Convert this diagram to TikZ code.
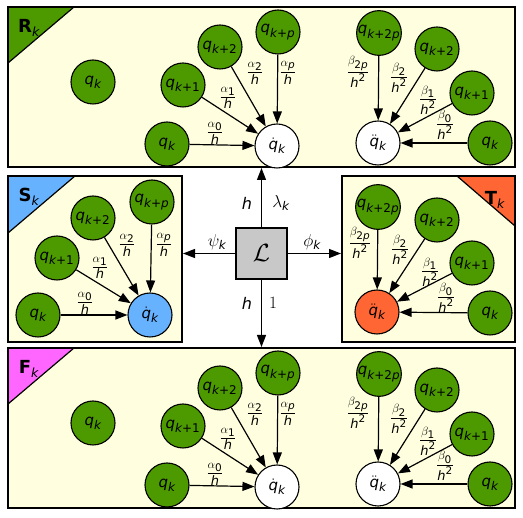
\documentclass[tikz,border=0pt]{standalone}
\usepackage{amsmath}
\usepackage{fontspec}
\newfontfamily\dv{DejaVu Sans}
\usetikzlibrary{arrows.meta}
\DeclareMathSizes{15}{15}{12}{9}
\DeclareMathSizes{13}{13}{10.5}{8}
\DeclareMathSizes{16}{16}{12}{9}
\definecolor{panelbg}{HTML}{FFFFE0}
\definecolor{grn}{HTML}{4C9900}
\definecolor{blu}{HTML}{66B2FF}
\definecolor{org}{HTML}{FF6633}
\definecolor{mag}{HTML}{FF66FF}
\definecolor{lgr}{HTML}{C8C8C8}
\newcommand\ti[1]{\text{\dv\itshape #1}}
\newcommand\tu[1]{\text{\dv #1}}
\newcommand\Qk{$\ti{q}_{\ti{k}}$}
\newcommand\Qa{$\ti{q}_{\ti{k}\tu{+1}}$}
\newcommand\Qb{$\ti{q}_{\ti{k}\tu{+2}}$}
\newcommand\Qp{$\ti{q}_{\ti{k}\tu{+}\ti{p}}$}
\newcommand\Qtp{$\ti{q}_{\ti{k}\tu{+2}\ti{p}}$}
\newcommand\Qd{$\dot{\ti{q}}_{\ti{k}}$}
\newcommand\Qdd{$\ddot{\ti{q}}_{\ti{k}}$}
\newcommand\Al[1]{$\dfrac{\alpha_{#1}}{\ti{h}}$}
\newcommand\Be[1]{$\dfrac{\beta_{#1}}{\ti{h}^{\tu{2}}}$}
\newcommand\Tag[1]{{\dv\bfseries #1}$_{\ti{k}}$}
\tikzset{
  panel/.style={draw=black, line width=1.8pt, fill=panelbg},
  border/.style={draw=black, line width=1.8pt},
  corner/.style={draw=black, line width=1.2pt},
  qn/.style={circle, draw=black, line width=1.1pt, fill=grn, minimum size=44pt, inner sep=0pt, font=\fontsize{15}{17}\selectfont},
  dn/.style={qn, fill=white},
  arr/.style={line width=1.2pt, -{Triangle[length=12pt,width=9pt]}},
  lab/.style={font=\fontsize{13}{15}\selectfont, inner sep=0pt},
  clab/.style={font=\fontsize{16}{18}\selectfont, inner sep=0pt},
  tag/.style={font=\fontsize{18}{20}\selectfont, inner sep=0pt},
  cbox/.style={draw=black, line width=1.5pt, fill=lgr, minimum size=51pt, inner sep=0pt, font=\fontsize{24}{26}\selectfont}
}
\newcommand\rfpanel[4]{%
\begin{scope}[shift={(0,#1)}]
  \draw[panel] (8,7) rectangle (515,167);
  \draw[corner, fill=#2] (8,7) -- (74,7) -- (8,63) -- cycle;
  \draw[border] (8,7) rectangle (515,167);
  \node[tag] (#4tag) at (29,28) {\Tag{#3}};
  \node[qn] (#4q) at (93,82) {\Qk};
  \node[qn] (#4a2) at (220,47) {\Qb};
  \node[qn] (#4ap) at (278,32) {\Qp};
  \node[qn] (#4a1) at (183,85) {\Qa};
  \node[qn] (#4a0) at (167,144) {\Qk};
  \node[dn] (#4ad) at (277,146) {\Qd};
  \draw[arr] (#4a0) -- (#4ad);
  \draw[arr] (#4a1) -- (#4ad);
  \draw[arr] (#4a2) -- (#4ad);
  \draw[arr] (#4ap) -- (#4ad);
  \node[lab] (#4la0) at (215,133) {\Al{\tu{0}}};
  \node[lab] (#4la1) at (228,98) {\Al{\tu{1}}};
  \node[lab] (#4la2) at (255,73) {\Al{\tu{2}}};
  \node[lab] (#4lap) at (288,73) {\Al{\ti{p}}};
  \node[qn] (#4b2p) at (379,33) {\Qtp};
  \node[qn] (#4b2) at (437,49) {\Qb};
  \node[qn] (#4b1) at (472,93) {\Qa};
  \node[qn] (#4b0) at (490,143) {\Qk};
  \node[dn] (#4bd) at (378,143) {\Qdd};
  \draw[arr] (#4b0) -- (#4bd);
  \draw[arr] (#4b1) -- (#4bd);
  \draw[arr] (#4b2) -- (#4bd);
  \draw[arr] (#4b2p) -- (#4bd);
  \node[lab] (#4lb2p) at (358,72) {\Be{\tu{2}\ti{p}}};
  \node[lab] (#4lb2) at (399,78) {\Be{\tu{2}}};
  \node[lab] (#4lb1) at (428,100) {\Be{\tu{1}}};
  \node[lab] (#4lb0) at (445,125) {\Be{\tu{0}}};
\end{scope}}
\begin{document}
\begin{tikzpicture}[x=1pt,y=-1pt]
  \path[fill=white, use as bounding box] (0,0) rectangle (523,518);
  % R and F panels
  \rfpanel{0}{grn}{R}{r}
  \rfpanel{341}{mag}{F}{f}
  % S panel
  \draw[panel] (8,176) rectangle (182,342);
  \draw[corner, fill=blu] (8,176) -- (75,176) -- (8,233) -- cycle;
  \draw[border] (8,176) rectangle (182,342);
  \node[tag] (stag) at (29,197) {\Tag{S}};
  \node[qn] (s2) at (93,218) {\Qb};
  \node[qn] (sp) at (152,202) {\Qp};
  \node[qn] (s1) at (57,258) {\Qa};
  \node[qn] (s0) at (38,315) {\Qk};
  \node[qn, fill=blu] (sd) at (150,315) {\Qd};
  \draw[arr] (s0) -- (sd);
  \draw[arr] (s1) -- (sd);
  \draw[arr] (s2) -- (sd);
  \draw[arr] (sp) -- (sd);
  \node[lab] (sl2) at (127,245) {\Al{\tu{2}}};
  \node[lab] (slp) at (164,245) {\Al{\ti{p}}};
  \node[lab] (sl1) at (100,268) {\Al{\tu{1}}};
  \node[lab] (sl0) at (85,303) {\Al{\tu{0}}};
  % T panel
  \draw[panel] (342,176) rectangle (515,342);
  \draw[corner, fill=org] (457,176) -- (515,176) -- (515,226) -- cycle;
  \draw[border] (342,176) rectangle (515,342);
  \node[tag] (ttag) at (495,200) {\Tag{T}};
  \node[qn] (t2p) at (378,207) {\Qtp};
  \node[qn] (t2) at (437,220) {\Qb};
  \node[qn] (t1) at (472,263) {\Qa};
  \node[qn] (t0) at (490,313) {\Qk};
  \node[qn, fill=org] (td) at (377,312) {\Qdd};
  \draw[arr] (t0) -- (td);
  \draw[arr] (t1) -- (td);
  \draw[arr] (t2) -- (td);
  \draw[arr] (t2p) -- (td);
  \node[lab] (tl2p) at (360,243) {\Be{\tu{2}\ti{p}}};
  \node[lab] (tl2) at (400,250) {\Be{\tu{2}}};
  \node[lab] (tl1) at (430,272) {\Be{\tu{1}}};
  \node[lab] (tl0) at (446,298) {\Be{\tu{0}}};
  % centre
  \node[cbox] (L) at (261.5,253.5) {$\mathcal{L}$};
  \coordinate (Rb) at (261.5,168);
  \coordinate (Ft) at (261.5,347);
  \coordinate (Sr) at (183,253.5);
  \coordinate (Tl) at (341,253.5);
  \draw[arr] (L) -- (Rb);
  \draw[arr] (L) -- (Ft);
  \draw[arr] (L) -- (Sr);
  \draw[arr] (L) -- (Tl);
  \node[clab] (hu) at (247,203) {$\ti{h}$};
  \node[clab] (lam) at (281,203) {$\lambda_{\ti{k}}$};
  \node[clab] (psi) at (217,242) {$\psi_{\ti{k}}$};
  \node[clab] (phi) at (312,242) {$\phi_{\ti{k}}$};
  \node[clab] (hd) at (247,303) {$\ti{h}$};
  \node[clab] (one) at (273,303) {$1$};
\end{tikzpicture}
\end{document}
